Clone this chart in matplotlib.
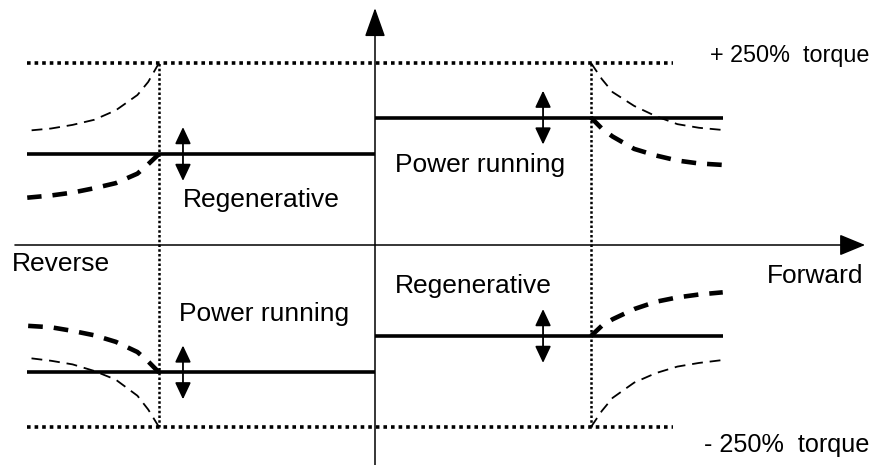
import matplotlib
matplotlib.use("Agg")
import matplotlib.pyplot as plt
from matplotlib.patches import FancyArrowPatch

plt.rcParams['font.family'] = ['Liberation Sans', 'DejaVu Sans']

# ---------------- data (speed in p.u. of base speed, torque in %) ----------------
limit_torque = 250
base_speed = 1.0
max_speed = 1.61
limit_line_end = 1.38

fwd_power_torque = 175
fwd_regen_torque = -125
rev_power_torque = -175
rev_regen_torque = 125

curve_speed = [1.0, 1.05, 1.1, 1.2, 1.3, 1.4, 1.5, 1.61]
fwd_upper_limit = [250, 228, 210, 191, 177, 166, 161, 158]
fwd_lower_limit = [-250, -228, -210, -189, -176, -167, -162, -158]
rev_upper_limit = [250, 224, 206, 185, 172, 165, 160, 157]
rev_lower_limit = [-250, -226, -207, -185, -173, -164, -159, -155]
fwd_power_curve = [175, 160, 149, 132, 123, 116, 112, 110]
fwd_regen_curve = [-125, -111, -102, -88, -78, -72, -68, -65]
rev_regen_curve = [125, 111, 98, 85, 78, 72, 68, 65]
rev_power_curve = [-175, -160, -147, -133, -124, -118, -113, -111]

region_labels = ["Regenerative", "Power running", "Power running", "Regenerative"]
region_label_pos = [(-0.889, 52), (0.093, 100), (-0.907, -104), (0.093, -66)]
adjust_arrow_speed = [-0.889, 0.778, -0.889, 0.778]
adjust_arrow_level = [rev_regen_torque, fwd_power_torque, rev_power_torque, fwd_regen_torque]
adjust_half_span = 37

axis_labels = ["Reverse", "Forward"]
axis_label_pos = [(-1.681, -36), (1.815, -52)]
torque_labels = ["+ 250%  torque", "- 250%  torque"]
torque_label_pos = [(2.29, 251), (2.29, -284)]
torque_label_size = [16.8, 18.2]

# ---------------- drawing ----------------
fig = plt.figure(figsize=(8.74, 4.65), dpi=100)
ax = fig.add_axes([0, 0, 1, 1])
ax.set_xlim(-375 / 216, 499 / 216)
ax.set_ylim(-220 / 0.728, 245 / 0.728)
ax.axis('off')

# main axes with arrows
ax.add_patch(FancyArrowPatch((0, -302.2), (0, 325.5), arrowstyle='-|>,head_length=0.9,head_width=0.32',
                             mutation_scale=20, lw=1.1, color='black', shrinkA=0, shrinkB=0))
ax.add_patch(FancyArrowPatch((-1.667, 0), (2.269, 0), arrowstyle='-|>,head_length=0.8,head_width=0.33',
                             mutation_scale=20, lw=1.1, color='black', shrinkA=0, shrinkB=0))

# +-250% dotted limit lines
for t in (limit_torque, -limit_torque):
    ax.plot([-max_speed, limit_line_end], [t, t], color='black', lw=2.6,
            linestyle=(0, (1, 1.1)), dash_capstyle='butt')

# vertical dotted lines at base speed
for s in (base_speed, -base_speed):
    ax.plot([s, s], [-limit_torque, limit_torque], color='black', lw=1.8,
            linestyle=(0, (1, 0.9)), dash_capstyle='butt')

# solid torque limit settings
ax.plot([-max_speed, 0], [rev_regen_torque] * 2, color='black', lw=2.6, solid_capstyle='butt')
ax.plot([0, max_speed], [fwd_power_torque] * 2, color='black', lw=2.6, solid_capstyle='butt')
ax.plot([-max_speed, 0], [rev_power_torque] * 2, color='black', lw=2.6, solid_capstyle='butt')
ax.plot([0, max_speed], [fwd_regen_torque] * 2, color='black', lw=2.6, solid_capstyle='butt')

neg_speed = [-s for s in curve_speed]
thin_style = dict(color='black', lw=1.3, linestyle=(0, (6, 3.8)))
thick_style = dict(color='black', lw=3.3, linestyle=(0, (3.2, 2.4)))

ax.plot(curve_speed, fwd_upper_limit, **thin_style)
ax.plot(curve_speed, fwd_lower_limit, **thin_style)
ax.plot(neg_speed, rev_upper_limit, **thin_style)
ax.plot(neg_speed, rev_lower_limit, **thin_style)

ax.plot(curve_speed, fwd_power_curve, **thick_style)
ax.plot(curve_speed, fwd_regen_curve, **thick_style)
ax.plot(neg_speed, rev_regen_curve, **thick_style)
ax.plot(neg_speed, rev_power_curve, **thick_style)

# adjustment double arrows
for s, lvl in zip(adjust_arrow_speed, adjust_arrow_level):
    ax.add_patch(FancyArrowPatch((s, lvl - adjust_half_span), (s, lvl + adjust_half_span),
                                 arrowstyle='<|-|>,head_length=0.85,head_width=0.4',
                                 mutation_scale=12, lw=1.3, color='black',
                                 shrinkA=0, shrinkB=0))

fs = 19
for txt, (x, y) in zip(region_labels, region_label_pos):
    ax.text(x, y, txt, fontsize=fs, ha='left', va='baseline')
for txt, (x, y) in zip(axis_labels, axis_label_pos):
    ax.text(x, y, txt, fontsize=fs, ha='left', va='baseline')
for txt, (x, y), size in zip(torque_labels, torque_label_pos, torque_label_size):
    ax.text(x, y, txt, fontsize=size, ha='right', va='baseline')

fig.savefig('out.png', dpi=100)
